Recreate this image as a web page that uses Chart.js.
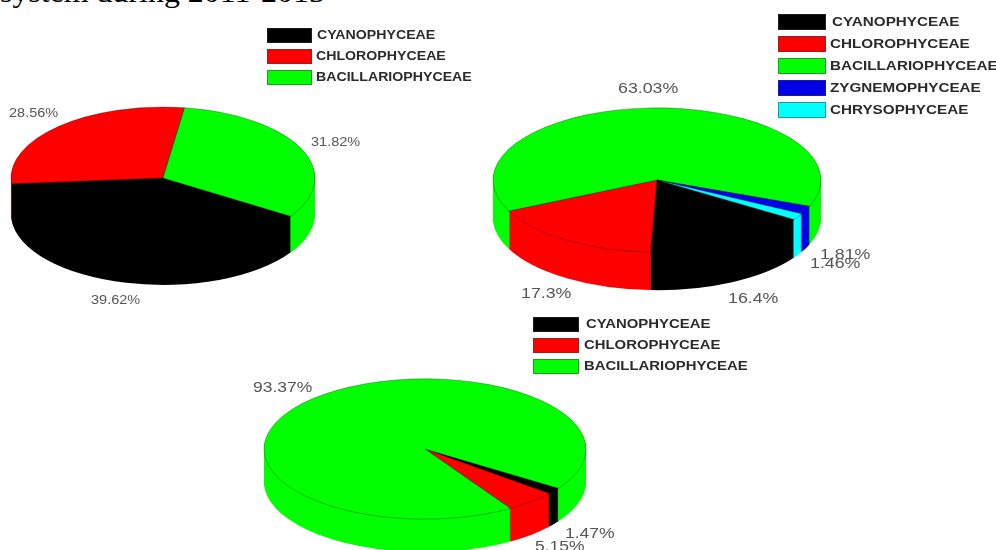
<!DOCTYPE html>
<html>
<head>
<meta charset="utf-8">
<title>Phytoplankton composition</title>
<script src="https://cdn.jsdelivr.net/npm/chart.js@4"></script>
<style>
html, body { margin: 0; padding: 0; background: #fff; }
#page { position: relative; width: 996px; height: 550px; overflow: hidden; background: #fff; filter: blur(0.5px); }
#page canvas { position: absolute; }
.txt { position: absolute; white-space: nowrap; font-family: "Liberation Sans", sans-serif; transform-origin: left center; line-height: 1; }
.legend { font-weight: bold; font-size: 12px; color: #2a2a2a; }
.value { color: #555; }
.swatch { position: absolute; box-sizing: border-box; border: 1px solid rgba(60, 60, 60, 0.5); }
#title { position: absolute; left: 0; top: -24px; font: 29px "Liberation Serif", serif; color: #000; white-space: nowrap; transform-origin: left center; transform: scaleX(1.1); }
</style>
</head>
<body>
<div id="page">
  <div id="title">system during 2011-2013</div>
</div>
<script>
// data
const names3 = ['CYANOPHYCEAE', 'CHLOROPHYCEAE', 'BACILLARIOPHYCEAE'];
const names5 = ['CYANOPHYCEAE', 'CHLOROPHYCEAE', 'BACILLARIOPHYCEAE', 'ZYGNEMOPHYCEAE', 'CHRYSOPHYCEAE'];
const valuesA = [39.62, 28.56, 31.82];
const valuesB = [16.4, 17.3, 63.03, 1.81, 1.46];
const valuesC = [1.47, 5.15, 93.37];

const colors = ['#000000', '#ff0000', '#00ff00', '#0000e6', '#00ffff'];

// tilted pie: the arcs are drawn squashed and stacked to give the side wall
const tiltPlugin = {
    id: 'tilt',
    beforeDatasetsDraw(chart, args, opts) {
        const ctx = chart.ctx;
        const arcs = chart.getDatasetMeta(0).data;
        const cx = arcs[0].x;
        const cy = arcs[0].y;
        ctx.save();
        ctx.translate(cx, cy);
        ctx.scale(1, opts.squash);
        ctx.translate(-cx, -cy);
        // side wall, bottom layer first
        for (let d = opts.depth; d > 0; d--) {
            ctx.save();
            ctx.translate(0, d / opts.squash);
            arcs.forEach(a => a.draw(ctx));
            ctx.restore();
        }
        // top face with a thin dark edge
        arcs.forEach(a => {
            const plain = a.options;
            a.options = Object.assign({}, plain, { borderWidth: 1, borderColor: 'rgba(0, 0, 0, 0.4)' });
            a.draw(ctx);
            a.options = plain;
        });
        ctx.restore();
        return false;
    }
};

const page = document.getElementById('page');

function addPie(id, values, names, cx, cy, rx, squash, depth, rotation) {
    const canvas = document.createElement('canvas');
    const size = rx * 2 + 6;
    canvas.id = id;
    canvas.width = size;
    canvas.height = size;
    canvas.style.width = size + 'px';
    canvas.style.height = size + 'px';
    canvas.style.left = (cx - size / 2) + 'px';
    canvas.style.top = (cy - size / 2) + 'px';
    page.appendChild(canvas);
    return new Chart(canvas.getContext('2d'), {
        type: 'pie',
        data: {
            labels: names,
            datasets: [{
                data: values,
                backgroundColor: colors.slice(0, values.length),
                borderWidth: 0
            }]
        },
        options: {
            responsive: false,
            animation: false,
            devicePixelRatio: 1,
            rotation: rotation,
            radius: rx,
            events: [],
            layout: { padding: 0 },
            plugins: {
                legend: { display: false },
                tooltip: { enabled: false },
                tilt: { squash: squash, depth: depth }
            }
        },
        plugins: [tiltPlugin]
    });
}

function addText(str, cls, x, yMid, fontSize, stretch) {
    const el = document.createElement('div');
    el.className = 'txt ' + cls;
    el.textContent = str;
    el.style.left = x + 'px';
    el.style.top = (yMid - fontSize / 2) + 'px';
    el.style.fontSize = fontSize + 'px';
    el.style.transform = 'scaleX(' + stretch + ')';
    page.appendChild(el);
}

function addLegend(names, boxX, boxW, boxH, textX, rows, stretch) {
    names.forEach((name, i) => {
        const box = document.createElement('div');
        box.className = 'swatch';
        box.style.left = boxX + 'px';
        box.style.top = (rows[i] - boxH / 2) + 'px';
        box.style.width = boxW + 'px';
        box.style.height = boxH + 'px';
        box.style.background = colors[i];
        page.appendChild(box);
        addText(name, 'legend', textX[i], rows[i], 12, stretch);
    });
}

addPie('pie-a', valuesA, names3, 163, 178, 152, 0.467, 36, 122.7);
addPie('pie-b', valuesB, names5, 657, 180, 164, 0.44, 38, 123.2);
addPie('pie-c', valuesC, names3, 425, 449, 161, 0.436, 33, 124);

addLegend(names3, 267, 45, 15, [317, 316, 316], [35, 56, 77], 1.18);
addLegend(names5, 778, 48, 16, [832, 830, 830, 830, 830], [22, 44, 66, 88, 110], 1.27);
addLegend(names3, 533, 46, 15, [586, 584, 584], [324, 345, 366], 1.24);

// value labels, placed where the reference has them
[[valuesA[0], 91, 300], [valuesA[1], 9, 113], [valuesA[2], 311, 142]].forEach(p =>
    addText(p[0] + '%', 'value', p[1], p[2], 12.5, 1.16));
[[valuesB[0], 728, 298], [valuesB[1], 521, 293], [valuesB[2], 618, 88], [valuesB[3], 820, 254], [valuesB[4], 810, 263]].forEach(p =>
    addText(p[0] + '%', 'value', p[1], p[2], 14, 1.27));
[[valuesC[0], 565, 533], [valuesC[1], 535, 546], [valuesC[2], 253, 387]].forEach(p =>
    addText(p[0] + '%', 'value', p[1], p[2], 14, 1.25));
</script>
</body>
</html>
